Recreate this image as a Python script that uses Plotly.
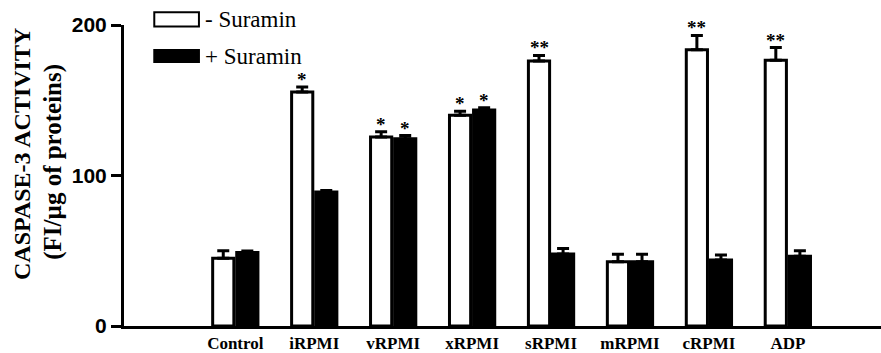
import plotly.graph_objects as go

categories = ["Control", "iRPMI", "vRPMI", "xRPMI", "sRPMI", "mRPMI", "cRPMI", "ADP"]
minus_suramin = [45, 155.5, 125.6, 140, 176, 42.7, 183.6, 176.5]
minus_err = [5, 3.3, 3.4, 2.7, 3.8, 5, 9.5, 8.5]
plus_suramin = [48.9, 89, 124.5, 143.5, 47.8, 42.7, 43.8, 46.4]
plus_err = [1, 1, 2, 1.5, 3.7, 5, 3.3, 3.6]
minus_stars = ["", "*", "*", "*", "**", "", "**", "**"]
plus_stars = ["", "", "*", "*", "", "", "", ""]
y_ticks = [0, 100, 200]

SERIF = "Liberation Serif, Times New Roman, serif"
SANS = "Liberation Sans, Arial, sans-serif"

fig = go.Figure()
fig.add_trace(go.Bar(
    x=categories, y=minus_suramin, name="- Suramin",
    marker=dict(color="white", line=dict(color="black", width=3)),
    error_y=dict(type="data", symmetric=False, array=minus_err,
                 arrayminus=[0] * len(minus_err), color="black", thickness=3, width=6),
))
fig.add_trace(go.Bar(
    x=categories, y=plus_suramin, name="+ Suramin",
    marker=dict(color="black", line=dict(color="black", width=3)),
    error_y=dict(type="data", symmetric=False, array=plus_err,
                 arrayminus=[0] * len(plus_err), color="black", thickness=3, width=6),
))

# significance stars
for cat, v, e, s in zip(categories, minus_suramin, minus_err, minus_stars):
    if s:
        fig.add_annotation(x=cat, y=v + e, text=s, showarrow=False, xshift=-12,
                           yshift=-5, yanchor="bottom",
                           font=dict(family=SERIF, size=19, color="black", weight="bold"))
for cat, v, e, s in zip(categories, plus_suramin, plus_err, plus_stars):
    if s:
        fig.add_annotation(x=cat, y=v + e, text=s, showarrow=False, xshift=12,
                           yshift=-5, yanchor="bottom",
                           font=dict(family=SERIF, size=19, color="black", weight="bold"))

# legend drawn manually
legend_items = [("- Suramin", "white", 1.042, 0.995), ("+ Suramin", "black", 0.917, 0.877)]
for label, col, y1, y0 in legend_items:
    fig.add_shape(type="rect", xref="paper", yref="paper", x0=0.040, x1=0.099,
                  y0=y0, y1=y1, fillcolor=col, line=dict(color="black", width=2))
    fig.add_annotation(xref="paper", yref="paper", x=0.104, y=(y0 + y1) / 2,
                       text=label, showarrow=False, xanchor="left", yanchor="middle",
                       font=dict(family=SERIF, size=23, color="black"))

# y-axis titles
fig.add_annotation(xref="paper", yref="paper", x=-0.134, xanchor="center",
                   y=0.57, yanchor="middle", textangle=-90, showarrow=False,
                   text="CASPASE-3 ACTIVITY",
                   font=dict(family=SERIF, size=24, color="black", weight="bold"))
fig.add_annotation(xref="paper", yref="paper", x=-0.094, xanchor="center",
                   y=0.545, yanchor="middle", textangle=-90, showarrow=False,
                   text="(FI/µg of proteins)",
                   font=dict(family=SERIF, size=25, color="black", weight="bold"))

fig.update_layout(
    width=881, height=353,
    margin=dict(l=124, r=0, t=25, b=27),
    paper_bgcolor="white", plot_bgcolor="white",
    showlegend=False,
    barmode="group", bargap=0.39, bargroupgap=0.12,
    xaxis=dict(range=[-1.41, 8.18], showline=True, linecolor="black", linewidth=3,
               ticks="", showgrid=False, zeroline=False,
               tickfont=dict(family=SERIF, size=17, color="black", weight="bold")),
    yaxis=dict(range=[0, 200], tickvals=y_ticks, showline=True, linecolor="black",
               linewidth=3, ticks="outside", ticklen=10, tickwidth=3, tickcolor="black",
               showgrid=False, zeroline=False,
               tickfont=dict(family=SANS, size=21, color="black", weight="bold")),
)

fig.write_html("out.html", config={"displayModeBar": False},
               post_script="document.body.style.margin='0';document.body.style.padding='0';")
